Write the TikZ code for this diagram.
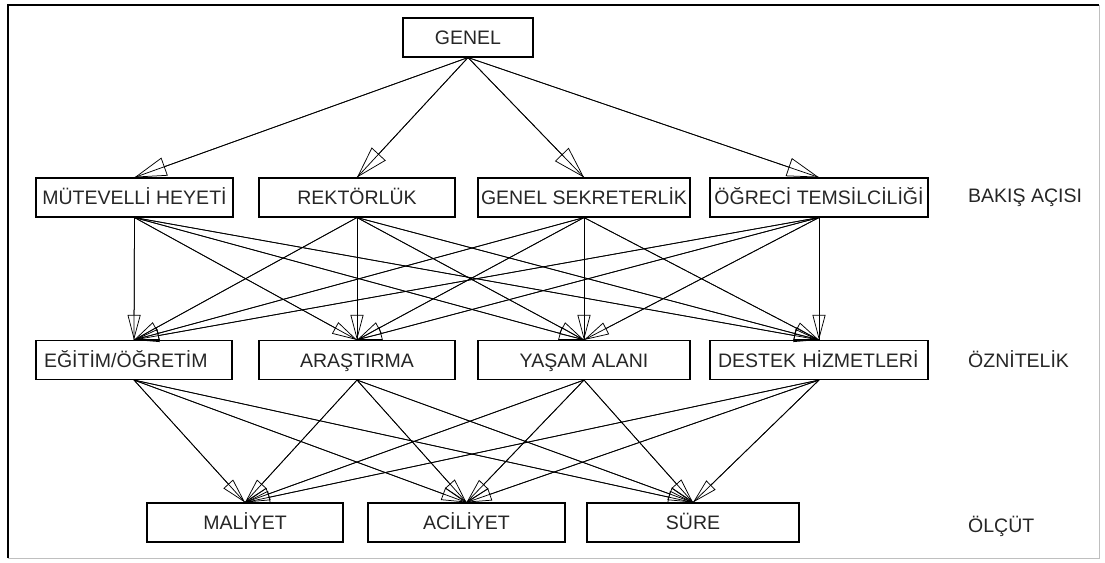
\documentclass[tikz,border=0pt]{standalone}
\usepackage{fontspec}
\setmainfont{Liberation Sans}
\usetikzlibrary{arrows.meta}
\begin{document}
\begin{tikzpicture}[x=1pt,y=-1pt,
  txt/.style={font=\fontsize{19.5}{21}\selectfont, text height=14pt, text depth=0pt, text=black!85},
  box/.style={txt, draw=black, line width=1.1pt, minimum height=39pt, inner sep=0pt},
  lbox/.style={box, align=left, inner xsep=8pt},
  lab/.style={txt, anchor=west, inner sep=0pt},
  edge/.style={line width=0.75pt, -{Triangle[open, length=25pt, width=13pt, line width=0.75pt]}, postaction={draw, -}},
  topedge/.style={line width=0.75pt, -{Triangle[open, length=32pt, width=19pt, line width=0.75pt]}, postaction={draw, -}}]
\fill[white] (0,0) rectangle (1105,562);
\useasboundingbox (0,0) rectangle (1105,562);
\draw[line width=1.2pt] (8,558) -- (8,5) -- (1099,5);
\draw[black!25, line width=1pt] (8,558) -- (1099,558) -- (1099,5);
% level 0
\node[box, minimum width=130pt] (genel) at (468,37.5) {GENEL};
% level 1
\node[box, minimum width=197pt] (mh) at (134.5,197.5) {MÜTEVELLİ HEYETİ};
\node[box, minimum width=196pt] (rk) at (357,197.5) {REKTÖRLÜK};
\node[box, minimum width=212pt] (gs) at (584,197.5) {GENEL SEKRETERLİK};
\node[box, minimum width=218pt] (ot) at (819,197.5) {ÖĞRECİ TEMSİLCİLİĞİ};
% level 2
\node[lbox, text width=180pt] (eg) at (134,360) {EĞİTİM/ÖĞRETİM};
\node[box, minimum width=196pt] (ar) at (357,360) {ARAŞTIRMA};
\node[box, minimum width=212pt] (ya) at (584,360) {YAŞAM ALANI};
\node[lbox, text width=202pt] (de) at (819,360) {DESTEK HİZMETLERİ};
% level 3
\node[box, minimum width=196pt] (ma) at (245,522.5) {MALİYET};
\node[box, minimum width=197pt] (ac) at (466.5,522.5) {ACİLİYET};
\node[box, minimum width=212pt] (su) at (693,522.5) {SÜRE};
% level labels
\node[lab] (l1) at (968,195) {BAKIŞ AÇISI};
\node[lab] (l2) at (968,360) {ÖZNİTELİK};
\node[lab] (l3) at (968,525) {ÖLÇÜT};
% connectors
\foreach \t in {mh,rk,gs,ot} \draw[topedge] (genel.south) -- (\t.north);
\foreach \s in {mh,rk,gs,ot} \foreach \t in {eg,ar,ya,de} \draw[edge] (\s.south) -- (\t.north);
\foreach \s in {eg,ar,ya,de} \foreach \t in {ma,ac,su} \draw[edge] (\s.south) -- (\t.north);
\end{tikzpicture}
\end{document}
